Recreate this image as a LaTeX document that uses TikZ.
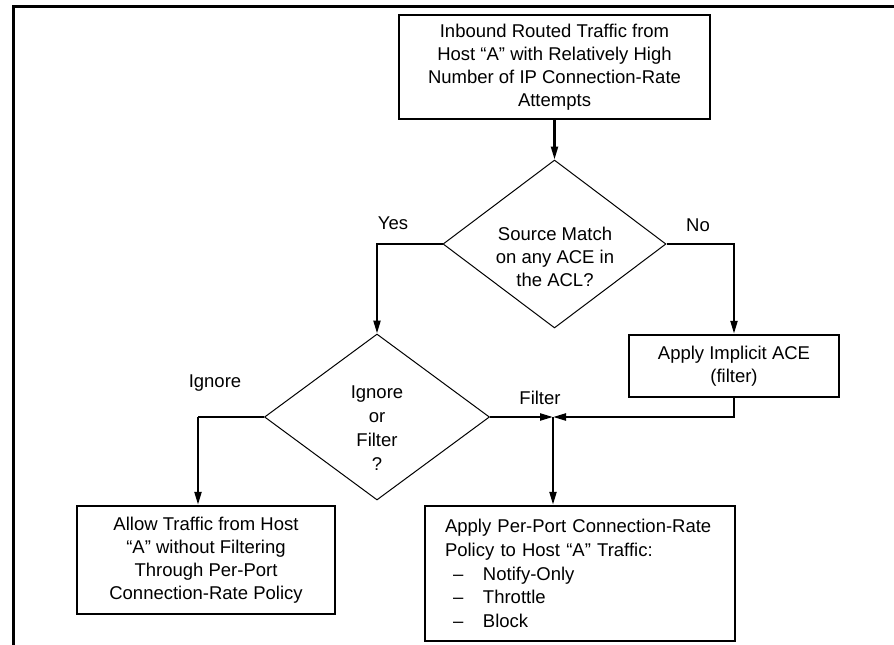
\documentclass[tikz,border=0pt]{standalone}
\usepackage{fontspec}
\setmainfont{Liberation Sans}
\usetikzlibrary{shapes.geometric,arrows.meta}
\begin{document}
\begin{tikzpicture}[x=1pt,y=-1pt,
  txt/.style={font=\fontsize{18.5}{23}\selectfont, align=center, inner sep=0pt},
  boxnode/.style={draw, line width=2.5pt, txt},
  dia/.style={draw, shape=diamond, line width=1pt, inner sep=0pt, aspect=1.33},
  conn/.style={line width=2.2pt},
  arr/.style={conn, -{Triangle[length=13pt,width=7pt]}},
  lbl/.style={txt}
]
\useasboundingbox (0,0) rectangle (894,645);
% frame
\draw[line width=3pt] (13,645) -- (13,6.5) -- (894,6.5);

% nodes
\node[boxnode, minimum width=311pt, minimum height=104pt] (top) at (554.5,67)
  {Inbound Routed Traffic from\\Host “A” with Relatively High\\Number of IP Connection-Rate\\Attempts};
\node[dia, minimum width=223pt, minimum height=168pt] (d1) at (554.5,244) {};
\node[txt] (d1t) at (555,257) {Source Match\\on any ACE in\\the ACL?};

\node[dia, minimum width=225pt, minimum height=166pt] (d2) at (377,417) {};
\node[txt, font=\fontsize{18.5}{24}\selectfont] (d2t) at (377,428) {Ignore\\or\\Filter\\?};

\node[boxnode, minimum width=210pt, minimum height=62pt] (imp) at (734,366)
  {Apply Implicit ACE\\(filter)};

\node[boxnode, minimum width=258pt, minimum height=108pt] (allow) at (206,560)
  {Allow Traffic from Host\\“A” without Filtering\\Through Per-Port\\Connection-Rate Policy};

\node[boxnode, minimum width=310pt, minimum height=135pt, text width=270pt, align=left,
  font=\fontsize{18.5}{23.7}\selectfont] (pp) at (580,573.5)
  {Apply Per-Port Connection-Rate\\Policy to Host “A” Traffic:\\
   \makebox[38pt][l]{\hspace*{8pt}–}Notify-Only\\
   \makebox[38pt][l]{\hspace*{8pt}–}Throttle\\
   \makebox[38pt][l]{\hspace*{8pt}–}Block};

% labels
\node[lbl] (yes) at (393,223) {Yes};
\node[lbl] (no) at (698,225) {No};
\node[lbl] (ign) at (215,383) {Ignore};
\node[lbl] (fil) at (540,398) {Filter};

% junction coordinates
\coordinate (j) at (553,417);
\coordinate (ig) at (198,417);

% connectors
\draw[arr] (top.south) -- (d1.north);
\draw[arr] (d1.west) -| (d2.north);
\draw[arr] (d1.east) -| (imp.north);
\draw[conn] (d2.west) -- (ig);
\draw[arr] (ig) -- (ig |- allow.north);
\draw[arr] (d2.east) -- (j);
\draw[arr] (imp.south) |- (j);
\draw[arr] (j) -- (j |- pp.north);
\end{tikzpicture}
\end{document}
